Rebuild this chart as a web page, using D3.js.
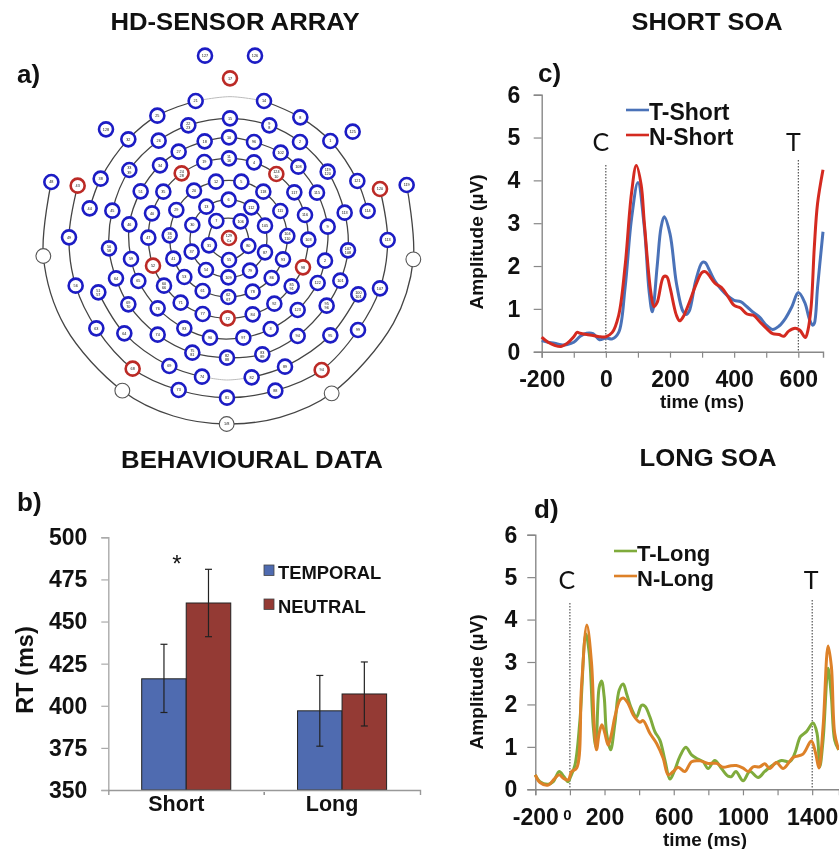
<!DOCTYPE html>
<html>
<head>
<meta charset="utf-8">
<script src="https://cdn.jsdelivr.net/npm/d3@7"></script>
<style>
  body { margin: 0; background: #fff; }
  svg { display: block; filter: blur(0.4px); }
  text { font-family: "Liberation Sans", Arial, sans-serif; fill: #111; }
  .title { font-size: 23.5px; font-weight: bold; text-anchor: middle; }
  .panel { font-size: 26px; font-weight: bold; }
  .tick-label text, .bold { font-weight: bold; }
  .mark { font-family: Lato, sans-serif; font-size: 25px; text-anchor: middle; }
</style>
</head>
<body>
<div id="holder"></div>
<script>
// sensor net, positions in net units
const ringA = [[559,543,"7"],[537,616,"31"],[597,660,"55"],[655,618,"80"],[632,544,"106"]];
const ringB = [[596,479,"6"],[529,500,"13"],[487,555,"30"],[485,635,"37"],[528,690,"54"],[595,712,"109"],[660,692,"79"],[705,637,"87"],[705,557,"105"],[664,502,"112"]];
const ringC = [[558,425,"12"],[492,452,"20"],[439,510,"29"],[419,586,"36 42"],[430,656,"41"],[463,711,"53"],[518,753,"61"],[595,771,"62 67"],[668,755,"78"],[725,714,"86"],[759,658,"93"],[772,588,"104 110"],[751,513,"111"],[700,455,"118"],[634,425,"5"]];
const ringD = [[597,355,"11 16"],[523,366,"19"],[455,400,"24 28"],[400,455,"35"],[366,520,"40"],[355,593,"47"],[369,677,"52"],[402,737,"60 66"],[452,788,"71"],[518,822,"77"],[593,835,"72"],[668,823,"84"],[733,791,"92"],[785,739,"85 91"],[819,682,"98"],[835,599,"103"],[825,525,"116"],[793,457,"117"],[739,402,"124 10"],[672,367,"4"]];
const ringE = [[597,292,"10"],[524,304,"18"],[446,335,"27"],[390,376,"34"],[332,454,"51"],[298,553,"46"],[303,657,"59"],[325,723,"65"],[383,805,"76"],[463,865,"83"],[540,893,"90"],[640,893,"97"],[722,867,"3"],[803,810,"123"],[863,729,"122"],[885,662,"2"],[893,560,"9"],[861,458,"115"],[805,380,"108"],[752,338,"102"],[672,306,"96"]];
const ringF = [[600,235,"15"],[475,256,"22 23"],[386,302,"26"],[298,390,"33 39"],[247,512,"45"],[237,625,"50 58"],[258,715,"64"],[295,793,"69 70"],[383,884,"74"],[487,938,"75 81"],[591,953,"82 88"],[697,943,"83 89"],[803,888,"94"],[890,797,"95 96"],[931,722,"101"],[954,631,"107 108"],[944,518,"113"],[893,395,"119 120"],[810,306,"2"],[718,256,"9 8"]];
const topLeftArc = [[179,505,"44"],[212,416,"38"],[295,298,"32"],[382,227,"25"],[497,183,"21"]];
const topRightArc = [[702,183,"14"],[811,232,"8"],[901,303,"1"],[982,423,"121"],[1013,513,"114"]];
const lowLeftArc = [[205,757,"51 57"],[283,880,"64"],[418,978,"69"],[516,1010,"74"]];
const lowRightArc = [[665,1012,"82"],[765,980,"89"],[901,886,"95"],[985,763,"100 101"]];
const nextArc = [[143,437,"43"],[117,592,"49"],[137,737,"56"],[199,865,"63"],[308,986,"68"],[446,1050,"73"],[591,1073,"81"],[736,1052,"88"],[875,990,"94"],[984,870,"99"],[1050,745,"107"],[1073,600,"113"],[1050,447,"120"]];
const looseSensors = [[64,426,"48"],[1130,435,"119"],[228,268,"128"],[968,275,"125"],[525,47,"127"],[675,47,"126"],[600,115,"17"]];
const whiteSensors = [[40,648,""],[1150,658,""],[277,1052,""],[905,1060,""],[590,1152,"1/8"]];
const rimArc = [[64,426],[40,648],[105,860],[277,1052],[430,1128],[590,1152],[750,1132],[905,1060],[1090,850],[1150,658],[1130,435]];
const topGap = [[497,183],[600,170],[702,183]];
const lowGap = [[516,1010],[590,1020],[665,1012]];
const redSensors = [[600,115],[143,437],[1050,447],[455,400],[739,402],[597,594],[369,677],[819,682],[593,835],[308,986],[875,990]];
const centreSensor = [[597,594,"129 Cz"]];

// behavioural data
const soaGroups = ["Short", "Long"];
const cueTypes = ["TEMPORAL", "NEUTRAL"];
const rtTemporal = [416, 397];
const rtNeutral = [461, 407];
const errLowTemporal = [396, 376];
const errHighTemporal = [436.5, 418];
const errLowNeutral = [441, 388];
const errHighNeutral = [481, 426];
const rtTicks = [350, 375, 400, 425, 450, 475, 500];

// short SOA traces
const tShortTime = [-200,-180,-160,-140,-120,-100,-80,-60,-40,-20,0,20,40,60,80,100,120,135,145,160,172,182,200,220,240,250,260,280,300,310,320,340,360,380,400,420,440,460,480,500,520,540,560,580,600,620,635,645,650,660,677];
const tShortAmp = [.26,.22,.2,.16,.17,.22,.36,.43,.42,.28,.32,.3,.45,1.5,3.1,3.95,2.9,1.4,.93,2.0,2.9,3.15,2.75,1.6,.95,.87,.95,1.65,2.08,2.08,1.95,1.65,1.45,1.3,1.2,1.17,1.05,.92,.8,.62,.52,.6,.78,1.05,1.38,1.15,.75,.62,.66,1.5,2.8];
const nShortTime = [-200,-180,-160,-140,-120,-100,-90,-80,-60,-40,-20,0,20,40,60,80,95,110,120,140,150,160,180,190,200,220,230,240,260,280,300,310,320,340,360,380,400,420,440,460,480,500,520,540,555,570,590,605,622,630,640,650,660,677];
const nShortAmp = [.34,.22,.15,.12,.2,.35,.45,.43,.4,.38,.35,.35,.45,.85,2.0,3.7,4.35,3.9,3.0,1.4,1.05,1.15,1.75,1.75,1.5,.85,.72,.8,1.15,1.55,1.85,1.87,1.8,1.6,1.5,1.3,1.08,1.02,.88,.85,.7,.55,.42,.4,.36,.48,.55,.5,.33,.5,1.05,2.45,3.46,4.25];

// long SOA traces
const tLongTime = [-200,-173,-125,-96,-62,-35,-10,4,29,58,92,112,135,150,169,183,198,212,235,260,285,308,327,356,385,414,433,462,491,520,549,578,606,635,670,703,741,770,799,837,876,914,934,959,1001,1040,1088,1126,1165,1222,1271,1300,1332,1367,1405,1428,1444,1463,1492,1511,1530,1553];
const tLongAmp = [.34,.18,.12,.18,.42,.3,.18,.3,.57,1.63,3.66,3.2,1.48,1.0,2.4,2.55,2.18,1.32,.93,1.55,2.34,2.48,2.26,1.9,1.71,1.98,1.96,1.71,1.36,1.16,.69,.24,.46,.77,.99,.81,.71,.65,.49,.68,.49,.31,.3,.42,.2,.42,.28,.42,.55,.68,.65,.85,1.24,1.36,1.56,1.32,.53,1.16,2.85,2.18,1.16,.93];
const nLongTime = [-200,-173,-125,-87,-62,-38,-10,10,39,67,98,125,141,154,169,185,202,221,241,260,289,308,337,366,404,423,462,501,539,568,597,626,664,703,751,799,847,886,924,962,1001,1030,1059,1097,1126,1155,1193,1232,1290,1347,1395,1420,1439,1463,1492,1511,1530,1553];
const nLongAmp = [.34,.16,.1,.26,.34,.26,.22,.42,.5,2.42,3.87,2.97,1.48,.93,1.32,1.52,1.32,1.04,1.32,1.71,2.1,2.15,2.02,1.75,1.58,1.62,1.32,1.08,.73,.34,.42,.52,.42,.65,.67,.61,.61,.52,.55,.56,.5,.42,.53,.53,.6,.49,.63,.49,.75,.83,1.14,.85,.5,1.47,3.38,2.89,1.32,.93];

const ampTicks = [0, 1, 2, 3, 4, 5, 6];
const shortTimeTicks = [-200,-100,0,100,200,300,400,500,600];
const shortTimeLabels = [-200,0,200,400,600];
const longTimeTicks = [-200,0,200,400,600,800,1000,1200,1400];
const longTimeLabels = [-200,0,200,600,1000,1400];

const width = 839;
const height = 849;

const svg = d3.select("#holder")
    .append("svg")
    .attr("width", width)
    .attr("height", height);

const addText = (x, y, str, cls) => svg.append("text")
    .attr("x", x).attr("y", y).attr("class", cls).text(str);
const stretched = (sel, len) => sel.attr("textLength", len).attr("lengthAdjust", "spacingAndGlyphs");

addText(235, 30, "HD-SENSOR ARRAY", "title").call(stretched, 249);
addText(707, 30, "SHORT SOA", "title").call(stretched, 151);
addText(252, 468, "BEHAVIOURAL DATA", "title").call(stretched, 262);
addText(708, 466, "LONG SOA", "title").call(stretched, 137);
addText(17, 83, "a)", "panel");
addText(17, 511, "b)", "panel");
addText(538, 82, "c)", "panel");
addText(534, 518, "d)", "panel");

// a) sensor net
const sx = d3.scaleLinear().domain([0, 1200]).range([30, 430]);
const sy = d3.scaleLinear().domain([0, 1200]).range([40, 440]);
const openLine = d3.line().x(d => sx(d[0])).y(d => sy(d[1])).curve(d3.curveCatmullRom);
const closedLine = d3.line().x(d => sx(d[0])).y(d => sy(d[1])).curve(d3.curveCatmullRomClosed);
const net = svg.append("g");

[ringA, ringB, ringC, ringD, ringE, ringF].forEach(ring => {
    net.append("path").attr("d", closedLine(ring))
        .attr("fill", "none").attr("stroke", "#444").attr("stroke-width", 1.3);
});
[topLeftArc, topRightArc, lowLeftArc, lowRightArc, nextArc, rimArc].forEach(arc => {
    net.append("path").attr("d", openLine(arc))
        .attr("fill", "none").attr("stroke", "#444").attr("stroke-width", 1.3);
});
[topGap, lowGap].forEach(arc => {
    net.append("path").attr("d", openLine(arc))
        .attr("fill", "none").attr("stroke", "#bbb").attr("stroke-width", 1);
});

const isRed = d => redSensors.some(r => r[0] === d[0] && r[1] === d[1]);
const blueSensors = [].concat(ringA, ringB, ringC, ringD, ringE, ringF, topLeftArc, topRightArc,
    lowLeftArc, lowRightArc, nextArc, looseSensors, centreSensor);

const sensor = net.selectAll(".sensor")
    .data(blueSensors)
    .enter()
    .append("g")
    .attr("class", "sensor")
    .attr("transform", d => `translate(${sx(d[0])},${sy(d[1])})`);
sensor.append("circle")
    .attr("r", 7)
    .attr("fill", "#fff")
    .attr("stroke", d => isRed(d) ? "#bb2a26" : "#1c1cc4")
    .attr("stroke-width", 2.6);
sensor.each(function (d) {
    const parts = d[2].split(" ");
    d3.select(this).selectAll("text")
        .data(parts)
        .enter()
        .append("text")
        .attr("text-anchor", "middle")
        .attr("y", (p, i) => parts.length > 1 ? (i === 0 ? -0.6 : 3.6) : 1.4)
        .attr("font-size", 3.8)
        .attr("fill", "#333")
        .text(p => p);
});

const rimSensor = net.selectAll(".rim")
    .data(whiteSensors)
    .enter()
    .append("g")
    .attr("transform", d => `translate(${sx(d[0])},${sy(d[1])})`);
rimSensor.append("circle")
    .attr("r", 7.4)
    .attr("fill", "#fff")
    .attr("stroke", "#555")
    .attr("stroke-width", 1.1);
rimSensor.append("text")
    .attr("text-anchor", "middle")
    .attr("y", 1.4)
    .attr("font-size", 3.8)
    .text(d => d[2]);

function styleAxis(g, color) {
    g.select(".domain").attr("stroke", color).attr("stroke-width", 1.4);
    g.selectAll(".tick line").attr("stroke", color).attr("stroke-width", 1.2);
    g.attr("class", "tick-label");
    g.selectAll("text").attr("font-family", null);
}

// b) bars
const bx0 = d3.scaleBand().domain(soaGroups).range([108.3, 420]);
const bx1 = d3.scaleBand().domain(cueTypes).range([0, bx0.bandwidth()]).paddingInner(0).paddingOuter(0.75);
const by = d3.scaleLinear().domain([350, 500]).range([790, 537.3]);
const barColors = { TEMPORAL: "#4f6bb0", NEUTRAL: "#943a34" };

const rows = [];
soaGroups.forEach((s, i) => {
    rows.push({ s: s, cue: "TEMPORAL", rt: rtTemporal[i], lo: errLowTemporal[i], hi: errHighTemporal[i] });
    rows.push({ s: s, cue: "NEUTRAL", rt: rtNeutral[i], lo: errLowNeutral[i], hi: errHighNeutral[i] });
});

const bars = svg.append("g");
bars.selectAll("rect")
    .data(rows)
    .enter()
    .append("rect")
    .attr("x", d => bx0(d.s) + bx1(d.cue))
    .attr("y", d => by(d.rt))
    .attr("width", bx1.bandwidth())
    .attr("height", d => by(350) - by(d.rt))
    .attr("fill", d => barColors[d.cue])
    .attr("stroke", "#222")
    .attr("stroke-width", 1);

const yAxisB = d3.axisLeft(by).tickValues(rtTicks).tickSize(7).tickPadding(14);
const gyb = svg.append("g").attr("transform", "translate(108.3,0)").call(yAxisB);
gyb.call(styleAxis, "#aaa");
gyb.selectAll("text").attr("font-size", 23).attr("font-family", "Liberation Sans");

const xAxisB = d3.axisBottom(bx0).tickSize(0).tickSizeOuter(5).tickPadding(6);
const gxb = svg.append("g").attr("transform", "translate(0,790)").call(xAxisB);
gxb.call(styleAxis, "#999");
gxb.selectAll("text").attr("font-size", 21.5).attr("font-family", "Liberation Sans").attr("dx", -10);
svg.append("line")
    .attr("x1", bx0("Long")).attr("x2", bx0("Long"))
    .attr("y1", 792).attr("y2", 795)
    .attr("stroke", "#555");

const errCenter = d => bx0(d.s) + bx1(d.cue) + bx1.bandwidth() / 2;
const err = svg.append("g").attr("stroke", "#222").attr("stroke-width", 1.2);
err.selectAll(".stem").data(rows).enter().append("line")
    .attr("x1", errCenter).attr("x2", errCenter)
    .attr("y1", d => by(d.lo)).attr("y2", d => by(d.hi));
err.selectAll(".capLo").data(rows).enter().append("line")
    .attr("x1", d => errCenter(d) - 3.5).attr("x2", d => errCenter(d) + 3.5)
    .attr("y1", d => by(d.lo)).attr("y2", d => by(d.lo));
err.selectAll(".capHi").data(rows).enter().append("line")
    .attr("x1", d => errCenter(d) - 3.5).attr("x2", d => errCenter(d) + 3.5)
    .attr("y1", d => by(d.hi)).attr("y2", d => by(d.hi));

svg.append("text").attr("transform", "translate(33,670) rotate(-90)")
    .attr("text-anchor", "middle").attr("font-size", 23.5).attr("font-weight", "bold").text("RT (ms)");
svg.append("text").attr("x", 177).attr("y", 572).attr("text-anchor", "middle").attr("font-size", 24).text("*");

cueTypes.forEach((cue, i) => {
    const ly = 565 + i * 34;
    svg.append("rect").attr("x", 264).attr("y", ly).attr("width", 10).attr("height", 10.5)
        .attr("fill", barColors[cue]).attr("stroke", "#444").attr("stroke-width", 0.8);
    svg.append("text").attr("x", 278).attr("y", ly + 14).attr("font-size", 18.4)
        .attr("font-weight", "bold").text(cue);
});

// c) and d) traces
function drawTraces(opt) {
    const x = d3.scaleLinear().domain(opt.xDomain).range(opt.xRange);
    const y = d3.scaleLinear().domain([0, 6]).range(opt.yRange);
    const base = opt.yRange[0];

    opt.marks.forEach(m => {
        svg.append("line")
            .attr("x1", x(m.t)).attr("x2", x(m.t))
            .attr("y1", m.top).attr("y2", base)
            .attr("stroke", "#333").attr("stroke-width", 1)
            .attr("stroke-dasharray", "1.5,1.5");
        addText(x(m.t) + m.dx, opt.markY, m.name, "mark");
    });

    const gy = svg.append("g")
        .attr("transform", `translate(${opt.xRange[0]},0)`)
        .call(d3.axisLeft(y).tickValues(ampTicks).tickSize(8).tickPadding(opt.yPad).tickFormat(d3.format("d")));
    gy.call(styleAxis, "#888");
    gy.selectAll("text").attr("font-size", 23).attr("font-family", "Liberation Sans");

    const gx = svg.append("g")
        .attr("transform", `translate(0,${base})`)
        .call(d3.axisBottom(x).tickValues(opt.ticks).tickSize(6).tickPadding(13)
            .tickFormat(d => opt.labels.includes(d) ? d : ""));
    gx.call(styleAxis, "#888");
    gx.selectAll("text").attr("font-size", 23).attr("font-family", "Liberation Sans");

    const line = d3.line().x(d => x(d[0])).y(d => y(d[1])).curve(d3.curveCatmullRom.alpha(0.5));
    opt.series.forEach(s => {
        svg.append("path")
            .attr("d", line(d3.zip(s.time, s.amp)))
            .attr("fill", "none")
            .attr("stroke", s.color)
            .attr("stroke-width", 3)
            .attr("stroke-linejoin", "round");
    });

    opt.series.forEach((s, i) => {
        const ly = opt.legendY + i * opt.legendStep;
        svg.append("line")
            .attr("x1", opt.legendX).attr("x2", opt.legendX + 23)
            .attr("y1", ly).attr("y2", ly)
            .attr("stroke", s.color).attr("stroke-width", 2.6);
        svg.append("text").attr("x", opt.legendX + 23).attr("y", ly + 9.5)
            .attr("font-size", opt.legendFont).attr("font-weight", "bold").text(s.name);
    });

    svg.append("text").attr("transform", `translate(483,${opt.yLabelY}) rotate(-90)`)
        .attr("text-anchor", "middle").attr("font-size", 18).attr("font-weight", "bold")
        .call(stretched, 135)
        .text("Amplitude (µV)");
    svg.append("text").attr("x", opt.timeX).attr("y", opt.timeY)
        .attr("text-anchor", "middle").attr("font-size", 18).attr("font-weight", "bold")
        .call(stretched, 84)
        .text("time (ms)");
    return gx;
}

drawTraces({
    xDomain: [-200, 677], xRange: [541.7, 823],
    yRange: [351.7, 94.7],
    ticks: shortTimeTicks, labels: shortTimeLabels,
    marks: [{ t: 0, top: 165, name: "C", dx: -5 }, { t: 600, top: 160, name: "T", dx: -5 }],
    markY: 151,
    series: [
        { name: "T-Short", color: "#4a72b8", time: tShortTime, amp: tShortAmp },
        { name: "N-Short", color: "#d42a20", time: nShortTime, amp: nShortAmp }
    ],
    legendX: 626, legendY: 110, legendStep: 25, legendFont: 23,
    yPad: 13.5, yLabelY: 242, timeX: 702, timeY: 408
});

const gxLong = drawTraces({
    xDomain: [-200, 1555], xRange: [535.3, 839],
    yRange: [789.3, 534.7],
    ticks: longTimeTicks, labels: longTimeLabels,
    marks: [{ t: 0, top: 603, name: "C", dx: -3 }, { t: 1400, top: 600, name: "T", dx: -1 }],
    markY: 589,
    series: [
        { name: "T-Long", color: "#7fab3c", time: tLongTime, amp: tLongAmp },
        { name: "N-Long", color: "#dd8128", time: nLongTime, amp: nLongAmp }
    ],
    legendX: 614, legendY: 551, legendStep: 25, legendFont: 22,
    yPad: 10, yLabelY: 682, timeX: 705, timeY: 846
});

// the zero label on the long axis sits smaller and higher
gxLong.selectAll(".tick text").filter(d => d === 0)
    .attr("font-size", 15).attr("font-weight", "normal").attr("dx", -3).attr("dy", "0.75em");
</script>
</body>
</html>
